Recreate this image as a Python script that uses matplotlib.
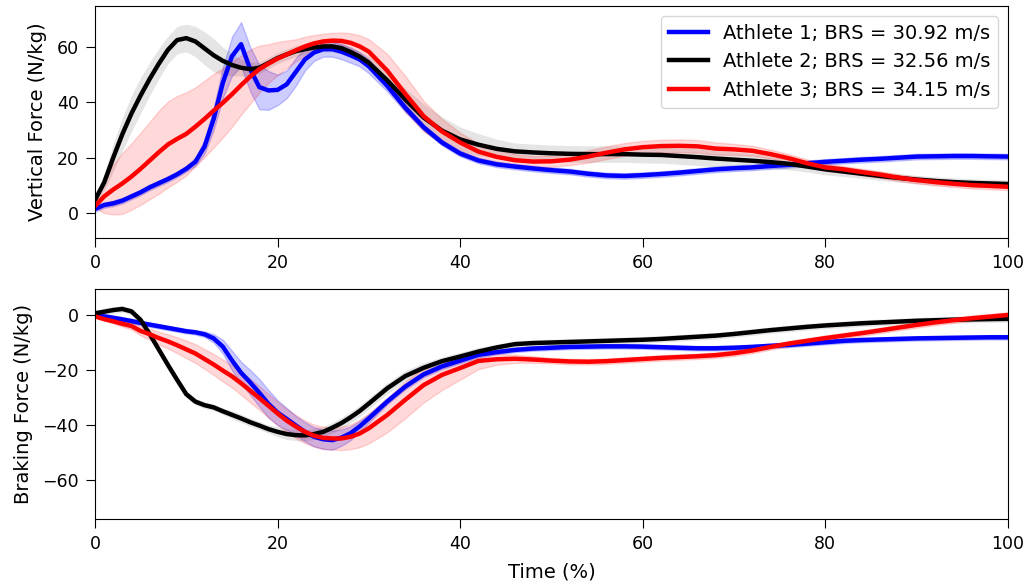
import numpy as np
import matplotlib.pyplot as plt

# time axis (% of stance)
t = [0, 1, 2, 3, 4, 5, 6, 7, 8, 9, 10, 11, 12, 13, 14, 15, 16, 17, 18, 19, 20,
     21, 22, 23, 24, 25, 26, 27, 28, 29, 30,
     32, 34, 36, 38, 40, 42, 44, 46, 48, 50, 52, 54, 56, 58, 60, 62, 64, 66,
     68, 70, 72, 74, 76, 78, 80, 82, 84, 86, 88, 90, 92, 94, 96, 98, 100]

labels = ["Athlete 1; BRS = 30.92 m/s",
          "Athlete 2; BRS = 32.56 m/s",
          "Athlete 3; BRS = 34.15 m/s"]

# vertical force means (N/kg)
vert_a1 = [1.5, 2.9, 3.5, 4.5, 6, 7.5, 9.3, 10.8, 12.3, 14, 16, 18.5, 24, 34, 47, 56.6, 61, 52, 45.5, 44.3, 44.5,
           46.5, 51, 55.5, 58, 59.2, 59.2, 58.3, 57, 55.5, 53,
           46, 38, 31, 25.5, 21.5, 19, 17.6, 16.8, 16.1, 15.5, 15, 14.2, 13.6, 13.4, 13.7, 14.1, 14.6, 15.2,
           15.8, 16.2, 16.5, 17, 17.4, 18, 18.5, 18.9, 19.3, 19.6, 20, 20.4, 20.5, 20.6, 20.6, 20.5, 20.4]
vert_a2 = [4.7, 11, 20, 28.5, 36, 42.5, 48.5, 54, 59, 62.5, 63.2, 62, 59.5, 57, 55, 53.5, 52.5, 52, 52.5, 54.2, 56,
           57.3, 58.5, 59.2, 59.8, 60.2, 60.2, 59.6, 58.2, 56.5, 54.3,
           48, 41, 34.5, 29.8, 26.6, 24.7, 23.2, 22.3, 21.9, 21.6, 21.4, 21.3, 21.3, 21.3, 21.1, 21, 20.6, 20.2,
           19.7, 19.3, 18.9, 18.4, 17.8, 16.8, 15.8, 15, 14.2, 13.4, 12.7, 12.1, 11.6, 11.2, 10.9, 10.7, 10.5]
vert_a3 = [2.5, 6, 8.5, 10.7, 13.2, 16, 19, 22, 24.8, 26.8, 28.6, 31.2, 34, 37, 39.8, 42.9, 46.2, 49.3, 52, 54, 55.8,
           57.3, 58.8, 60.2, 61.3, 62, 62.3, 62.2, 61.5, 60.2, 58.3,
           51.5, 43, 35, 29.5, 25.5, 22.2, 20.3, 19.1, 18.6, 18.7, 19.3, 20.4, 21.8, 23, 23.8, 24.2, 24.3, 24.1,
           23.3, 23, 22.5, 21.3, 19.8, 18, 16.5, 15.8, 14.8, 13.9, 12.8, 11.9, 11.2, 10.6, 10.1, 9.8, 9.5]

# vertical force standard deviations
vert_sd1 = [1, 1, 1, 1, 1, 1, 1, 1, 1, 1, 1, 1.5, 2.5, 4, 5.5, 7, 8, 8, 8, 7, 5.5,
            5, 5, 4, 3, 2.7, 2.7, 2.7, 2.7, 2.5, 2.5,
            2, 1.5, 1, 1, 1, 1, 1, 1, 1, 1, 1, 1, 1, 1, 1, 1, 1, 1,
            1, 1, 1, 1, 1, 1, 1, 1, 1, 1, 1, 1, 1, 1, 1, 1, 1]
vert_sd2 = [1, 3, 5, 6, 6.5, 6.5, 6, 5.5, 5, 5, 5, 5.5, 6, 6, 5, 4, 3, 2.5, 2, 2, 2,
            2, 2, 2, 2, 2, 2, 2, 2, 2, 2.5,
            3, 4, 5, 5, 4.5, 4, 3.5, 3, 3, 3, 3, 3, 3, 3, 3, 3, 3, 3,
            3, 2.8, 2.6, 2.4, 2.2, 2, 2, 1.8, 1.7, 1.6, 1.5, 1.5, 1.5, 1.5, 1.5, 1.5, 1.5]
vert_sd3 = [0.5, 6, 9, 11, 12, 13, 14, 15, 15.5, 15.5, 15, 14.2, 13.8, 13.3, 12.5, 11.7, 10.7, 9.8, 8.5, 7, 6,
            5, 4, 3.5, 3, 2.8, 2.8, 3, 3.5, 4, 4.5,
            6, 6.5, 5.5, 4.5, 3.5, 3, 2.5, 2.2, 2, 2, 2, 2.2, 2.3, 2.3, 2.3, 2.3, 2.3, 2.3,
            2.2, 2, 1.8, 1.6, 1.5, 1.4, 1.3, 1.2, 1.2, 1.2, 1.2, 1.2, 1.2, 1.2, 1.2, 1.2, 1.2]

# braking force means (N/kg)
brake_a1 = [0, -0.5, -1, -1.6, -2.2, -2.9, -3.5, -4.1, -4.7, -5.3, -5.9, -6.3, -7, -8.5, -11.5, -16.5, -21, -24.5, -28.3, -32.3, -35.5,
            -37.8, -40.2, -42.5, -44.3, -45.2, -45.5, -44.6, -43, -40.5, -37.6,
            -31.5, -26, -21.6, -18.7, -16.6, -14.5, -13.5, -12.7, -12.2, -11.9, -11.6, -11.5, -11.4, -11.4, -11.5, -11.7, -11.9, -12.1,
            -12.1, -11.9, -11.6, -11.2, -10.9, -10.4, -9.9, -9.4, -9.1, -8.9, -8.7, -8.5, -8.4, -8.3, -8.2, -8.1, -8.1]
brake_a2 = [0.6, 1.2, 1.8, 2.2, 1.3, -1.8, -7, -12.6, -18.2, -23.6, -28.8, -31.5, -32.8, -33.6, -35, -36.3, -37.6, -39, -40.2, -41.5, -42.5,
            -43.3, -43.7, -43.8, -43.3, -42.5, -41, -39.3, -37.2, -34.9, -32.2,
            -26.7, -22.2, -19.2, -16.8, -15.1, -13.3, -11.8, -10.6, -10.2, -10, -9.8, -9.6, -9.4, -9.2, -9, -8.7, -8.3, -7.9,
            -7.5, -6.9, -6.2, -5.5, -4.9, -4.3, -3.8, -3.4, -3, -2.7, -2.4, -2.1, -1.9, -1.7, -1.6, -1.5, -1.4]
brake_a3 = [-0.5, -1.5, -2.3, -3.2, -4, -5.8, -7, -8.4, -9.6, -11, -12.5, -14, -16, -18, -20.2, -22.3, -24.8, -27.5, -30.2, -33, -35.8,
            -38.4, -40.6, -42.5, -43.9, -44.7, -44.9, -44.9, -44.3, -43.1, -41.2,
            -36.4, -30.8, -25.5, -21.8, -19.3, -16.7, -16.1, -15.9, -16.2, -16.6, -16.9, -17, -16.8, -16.4, -16, -15.6, -15.3, -15,
            -14.6, -13.9, -12.9, -11.6, -10.4, -9.4, -8.4, -7.5, -6.6, -5.6, -4.6, -3.6, -2.7, -1.9, -1.2, -0.6, 0]

# braking force standard deviations
brake_sd1 = [0.8, 0.8, 0.8, 0.8, 0.8, 0.8, 0.8, 0.8, 0.8, 0.8, 0.8, 0.8, 1, 1.5, 2.5, 3.5, 4, 4.5, 5, 5, 4.5,
             4, 3.5, 3.5, 3.5, 3.5, 3.5, 3, 2.5, 2, 1.5,
             1, 1, 1, 1, 1, 1, 0.8, 0.8, 0.8, 0.8, 0.8, 0.8, 0.8, 0.8, 0.8, 0.8, 0.8, 0.8,
             0.8, 0.8, 0.8, 0.8, 0.8, 0.8, 0.8, 0.8, 0.8, 0.8, 0.8, 0.8, 0.8, 0.8, 0.8, 0.8, 0.8]
brake_sd2 = [1.2, 1.2, 1.2, 1.2, 1.2, 1.2, 1.2, 1.2, 1.2, 1.2, 1.2, 1.2, 1.2, 1.2, 1.2, 1.5, 1.5, 1.5, 1.5, 1.5, 1.8,
             2, 2, 2, 2, 2, 2, 2, 2, 2, 2,
             2, 2, 1.8, 1.5, 1.5, 1.5, 1.2, 1.2, 1.2, 1.2, 1.2, 1.2, 1.2, 1.2, 1.2, 1.2, 1.2, 1.2,
             1.2, 1.2, 1.2, 1.2, 1.2, 1.2, 1.2, 1.2, 1.2, 1.2, 1.2, 1.2, 1.2, 1.2, 1.2, 1.2, 1.2]
brake_sd3 = [0.3, 0.5, 0.8, 1, 1.3, 1.6, 2, 2.3, 2.6, 2.9, 3.2, 3.4, 3.6, 3.8, 4, 4.1, 4.2, 4.3, 4.3, 4.3, 4.3,
             4.2, 4.2, 4.1, 4, 4, 4, 4.2, 4.5, 5, 5.5,
             6.3, 6.7, 6.3, 5.5, 4.2, 3, 2, 1.5, 1.2, 1, 1, 1, 1, 1, 1, 1, 1, 1,
             1, 1, 1, 1, 1, 1, 1, 1, 1, 1, 1, 1, 1, 1, 1, 1, 1]

colors = ['b', 'k', 'r']
fill_alpha = [0.2, 0.1, 0.15]

plt.rcParams['font.size'] = 14
plt.rcParams['xtick.labelsize'] = 12.5
plt.rcParams['ytick.labelsize'] = 12.5
plt.rcParams['xtick.major.size'] = 6.5
plt.rcParams['ytick.major.size'] = 6.5
plt.rcParams['xtick.major.pad'] = 5
plt.rcParams['ytick.major.pad'] = 5
plt.rcParams['axes.labelpad'] = 7

fig = plt.figure(figsize=(10.3, 5.84), dpi=100)
ax1 = fig.add_axes([0.0922, 0.5925, 0.8864, 0.3972])
ax2 = fig.add_axes([0.0922, 0.1113, 0.8864, 0.3938])

x = np.array(t)
vert = [vert_a1, vert_a2, vert_a3]
vert_sd = [vert_sd1, vert_sd2, vert_sd3]
brake = [brake_a1, brake_a2, brake_a3]
brake_sd = [brake_sd1, brake_sd2, brake_sd3]

for i in range(3):
    lw_edge = 0 if colors[i] == 'k' else 1

    m = np.array(vert[i])
    s = np.array(vert_sd[i])
    ax1.fill_between(x, m - s, m + s, color=colors[i], alpha=fill_alpha[i], lw=lw_edge)
    ax1.plot(x, m, color=colors[i], lw=3.2, label=labels[i])

    m = np.array(brake[i])
    s = np.array(brake_sd[i])
    ax2.fill_between(x, m - s, m + s, color=colors[i], alpha=fill_alpha[i], lw=lw_edge)
    ax2.plot(x, m, color=colors[i], lw=3.2)

ax1.set_xlim(0, 100)
ax1.set_ylim(-9, 74.8)
ax1.set_yticks([0, 20, 40, 60])
ax1.set_ylabel("Vertical Force (N/kg)")
ax1.legend(loc='upper right')

ax2.set_xlim(0, 100)
ax2.set_ylim(-74.2, 9.45)
ax2.set_yticks([-60, -40, -20, 0])
ax2.set_ylabel("Braking Force (N/kg)")
ax2.set_xlabel("Time (%)")

fig.savefig("out.png", dpi=100)
